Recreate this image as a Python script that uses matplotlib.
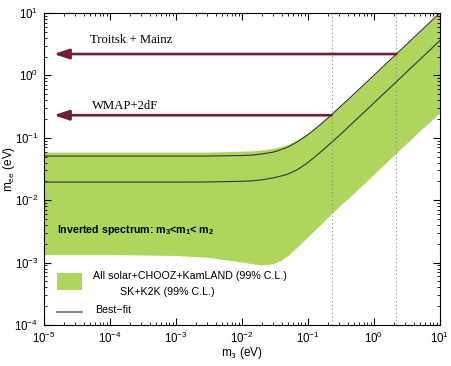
import matplotlib
matplotlib.use('Agg')
import matplotlib.pyplot as plt
from matplotlib.patches import Rectangle
from matplotlib.lines import Line2D

plt.rcParams['font.family'] = ['Liberation Sans', 'DejaVu Sans']
plt.rcParams['mathtext.fontset'] = 'custom'
plt.rcParams['mathtext.rm'] = 'Liberation Sans'
plt.rcParams['mathtext.it'] = 'Liberation Sans:italic'
plt.rcParams['mathtext.bf'] = 'Liberation Sans:bold'

# lightest neutrino mass m3 (eV)
m3 = [1e-5, 1e-4, 1e-3, 3e-3, 1e-2, 1.5e-2, 2e-2, 3e-2, 4e-2, 5e-2, 7e-2,
      0.1, 0.15, 0.2, 0.3, 0.5, 1.0, 2.0, 5.0, 10.0]
# allowed band edges for m_ee (eV)
band_upper = [0.059, 0.059, 0.059, 0.059, 0.061, 0.062, 0.064, 0.068, 0.073, 0.078, 0.093,
              0.118, 0.162, 0.209, 0.306, 0.503, 1.0, 2.0, 5.0, 10.0]
band_lower = [1.35e-3, 1.35e-3, 1.3e-3, 1.22e-3, 1.02e-3, 9.5e-4, 9.2e-4, 9.6e-4, 1.1e-3, 1.3e-3, 1.8e-3,
              2.6e-3, 3.9e-3, 5.3e-3, 8.0e-3, 1.3e-2, 2.6e-2, 5.2e-2, 0.13, 0.25]
# best-fit curves
fit_upper = [0.051, 0.051, 0.051, 0.051, 0.052, 0.053, 0.055, 0.059, 0.065, 0.071, 0.087,
             0.112, 0.158, 0.206, 0.304, 0.502, 1.0, 2.0, 5.0, 10.0]
fit_lower = [0.0195, 0.0195, 0.0195, 0.0196, 0.0201, 0.0205, 0.0212, 0.0228, 0.0245, 0.0262, 0.031,
             0.040, 0.057, 0.0742, 0.109, 0.181, 0.36, 0.72, 1.8, 3.6]

# experimental upper bounds (eV)
bound_labels = ['Troitsk + Mainz', 'WMAP+2dF']
bound_values = [2.2, 0.23]

green = '#aed65e'
maroon = '#702034'

fig = plt.figure(figsize=(4.52, 3.66), dpi=100)
ax = fig.add_axes([0.097, 0.112, 0.876, 0.8525])

ax.fill_between(m3, band_lower, band_upper, color=green, lw=0)
ax.plot(m3, fit_upper, color='#333333', lw=0.8)
ax.plot(m3, fit_lower, color='#333333', lw=0.8)

for v in bound_values:
    ax.axvline(v, color='#888888', lw=0.8, ls=(0, (1, 2.5)))

# arrows for the bounds
for v in bound_values:
    ax.annotate('', xy=(1.42e-5, v), xytext=(v, v),
                arrowprops=dict(arrowstyle='-|>,head_length=0.9,head_width=0.3',
                                color=maroon, lw=1.9, shrinkA=0, shrinkB=0))
ax.text(2.1e-4, 3.7, bound_labels[0], family='Liberation Serif', fontsize=9.2,
        ha='center', va='center')
ax.text(1.7e-4, 0.32, bound_labels[1], family='Liberation Serif', fontsize=9.2,
        ha='center', va='center')

ax.text(0.032, 0.304, r'Inverted spectrum: m$_\mathbf{3}$<m$_\mathbf{1}$< m$_\mathbf{2}$',
        transform=ax.transAxes, fontsize=7.7, fontweight='bold', va='center')

# legend drawn by hand
ax.add_patch(Rectangle((0.032, 0.112), 0.065, 0.0555, transform=ax.transAxes,
                       color=green, lw=0))
ax.text(0.1245, 0.157, 'All solar+CHOOZ+KamLAND (99% C.L.)', transform=ax.transAxes,
        fontsize=7.7, va='center')
ax.text(0.192, 0.107, 'SK+K2K (99% C.L.)', transform=ax.transAxes,
        fontsize=7.7, va='center')
ax.add_line(Line2D([0.032, 0.097], [0.043, 0.043], transform=ax.transAxes,
                   color='#777777', lw=1.3))
ax.text(0.129, 0.048, 'Best\u2212fit', transform=ax.transAxes, fontsize=7.7, va='center')

ax.set_xscale('log')
ax.set_yscale('log')
ax.set_xlim(1e-5, 10)
ax.set_ylim(1e-4, 10)
ax.tick_params(which='both', direction='in', top=True, right=True, labelsize=8.3, pad=4)
ax.tick_params(which='major', length=5)
ax.tick_params(which='minor', length=2.5)
ax.set_xlabel(r'm$_3$ (eV)', fontsize=8.5)
ax.set_ylabel(r'm$_{\mathregular{ee}}$ (eV)', fontsize=8.5)
ax.xaxis.set_label_coords(0.5, -0.064)
ax.yaxis.set_label_coords(-0.068, 0.5)

fig.savefig('out.png', dpi=100)
